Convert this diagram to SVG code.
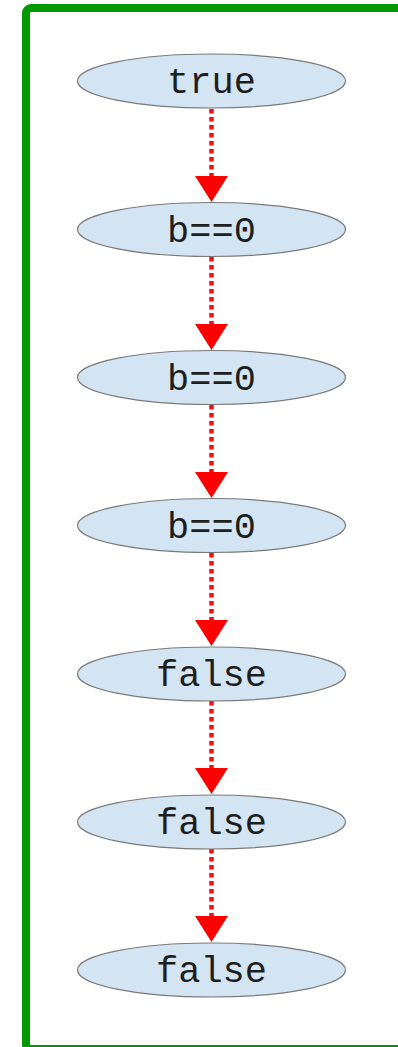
<svg xmlns="http://www.w3.org/2000/svg" width="398" height="1047" viewBox="0 0 398 1047">
<style>
.frame{fill:none;stroke:#009a00;stroke-width:8}
.node ellipse{fill:#d3e5f3;stroke:#7a7a7a;stroke-width:1.2}
.node text{font-family:"Liberation Mono","Courier New",monospace;font-size:37px;fill:#1e1e1e;text-anchor:middle}
.edge{stroke:#ee1111;stroke-width:4.5;stroke-dasharray:4.5 3.5;fill:none}
.head{fill:#ff0000}
</style>
<rect class="frame" x="26" y="8" width="400" height="1041" rx="5"/>
<g id="edges">
<line class="edge" x1="211.5" y1="109" x2="211.5" y2="176"/><polygon class="head" points="195,176 228,176 211.5,202"/>
<line class="edge" x1="211.5" y1="257" x2="211.5" y2="324"/><polygon class="head" points="195,324 228,324 211.5,350"/>
<line class="edge" x1="211.5" y1="405" x2="211.5" y2="472"/><polygon class="head" points="195,472 228,472 211.5,498"/>
<line class="edge" x1="211.5" y1="553" x2="211.5" y2="620"/><polygon class="head" points="195,620 228,620 211.5,646"/>
<line class="edge" x1="211.5" y1="701" x2="211.5" y2="768"/><polygon class="head" points="195,768 228,768 211.5,794"/>
<line class="edge" x1="211.5" y1="849" x2="211.5" y2="916"/><polygon class="head" points="195,916 228,916 211.5,942"/>
</g>
<g id="n1" class="node"><ellipse cx="211.5" cy="81" rx="134" ry="27"/><text x="211.5" y="93">true</text></g>
<g id="n2" class="node"><ellipse cx="211.5" cy="229.5" rx="134" ry="27"/><text x="211.5" y="241.5">b==0</text></g>
<g id="n3" class="node"><ellipse cx="211.5" cy="377.5" rx="134" ry="27"/><text x="211.5" y="389.5">b==0</text></g>
<g id="n4" class="node"><ellipse cx="211.5" cy="525.5" rx="134" ry="27"/><text x="211.5" y="537.5">b==0</text></g>
<g id="n5" class="node"><ellipse cx="211.5" cy="674" rx="134" ry="27"/><text x="211.5" y="686">false</text></g>
<g id="n6" class="node"><ellipse cx="211.5" cy="822" rx="134" ry="27"/><text x="211.5" y="834">false</text></g>
<g id="n7" class="node"><ellipse cx="211.5" cy="970" rx="134" ry="27"/><text x="211.5" y="982">false</text></g>
</svg>
